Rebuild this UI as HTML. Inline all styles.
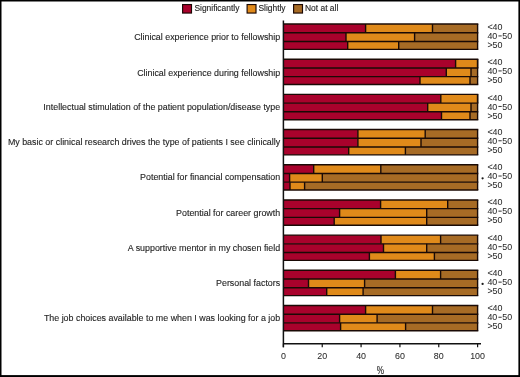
<!DOCTYPE html>
<html><head><meta charset="utf-8"><style>
html,body{margin:0;padding:0;background:#fff;}
body{width:520px;height:377px;overflow:hidden;position:relative;}
svg{position:absolute;left:0;top:0;}
text{font-family:"Liberation Sans",sans-serif;fill:#252525;stroke:#252525;stroke-width:0.12px;}
text.r,text.t{stroke-width:0.04px;fill:#2a2a2a;}
svg{will-change:transform;}
</style></head><body>
<svg width="520" height="377" viewBox="0 0 520 377">
<rect x="0" y="0" width="520" height="377" fill="#fff"/>
<rect x="283.40" y="24.03" width="82.20" height="8.73" fill="#a9022c"/>
<rect x="365.60" y="24.03" width="66.90" height="8.73" fill="#e08a1a"/>
<rect x="432.50" y="24.03" width="45.10" height="8.73" fill="#a76b25"/>
<line x1="365.60" y1="24.03" x2="365.60" y2="32.76" stroke="#1a0a05" stroke-width="1.4"/>
<line x1="432.50" y1="24.03" x2="432.50" y2="32.76" stroke="#1a0a05" stroke-width="1.4"/>
<line x1="477.60" y1="24.03" x2="477.60" y2="32.76" stroke="#1a0a05" stroke-width="1.4"/>
<rect x="283.40" y="32.76" width="62.60" height="8.67" fill="#a9022c"/>
<rect x="346.00" y="32.76" width="68.60" height="8.67" fill="#e08a1a"/>
<rect x="414.60" y="32.76" width="63.00" height="8.67" fill="#a76b25"/>
<line x1="346.00" y1="32.76" x2="346.00" y2="41.43" stroke="#1a0a05" stroke-width="1.4"/>
<line x1="414.60" y1="32.76" x2="414.60" y2="41.43" stroke="#1a0a05" stroke-width="1.4"/>
<line x1="477.60" y1="32.76" x2="477.60" y2="41.43" stroke="#1a0a05" stroke-width="1.4"/>
<rect x="283.40" y="41.43" width="64.30" height="7.90" fill="#a9022c"/>
<rect x="347.70" y="41.43" width="51.00" height="7.90" fill="#e08a1a"/>
<rect x="398.70" y="41.43" width="78.90" height="7.90" fill="#a76b25"/>
<line x1="347.70" y1="41.43" x2="347.70" y2="49.33" stroke="#1a0a05" stroke-width="1.4"/>
<line x1="398.70" y1="41.43" x2="398.70" y2="49.33" stroke="#1a0a05" stroke-width="1.4"/>
<line x1="477.60" y1="41.43" x2="477.60" y2="49.33" stroke="#1a0a05" stroke-width="1.4"/>
<line x1="283.40" y1="24.03" x2="478.30" y2="24.03" stroke="#1a0a05" stroke-width="1.4"/>
<line x1="283.40" y1="32.76" x2="478.30" y2="32.76" stroke="#1a0a05" stroke-width="1.4"/>
<line x1="283.40" y1="41.43" x2="478.30" y2="41.43" stroke="#1a0a05" stroke-width="1.4"/>
<line x1="283.40" y1="49.33" x2="478.30" y2="49.33" stroke="#1a0a05" stroke-width="1.4"/>
<text x="280.2" y="39.75" text-anchor="end" font-size="8.9">Clinical experience prior to fellowship</text>
<text class="r" x="487.4" y="30.00" font-size="8.9">&lt;40</text>
<text class="r" x="487.4" y="39.00" font-size="8.9">40</text>
<rect x="498.40" y="35.45" width="3.3" height="0.95" fill="#2a2a2a"/>
<text class="r" x="502.25" y="39.00" font-size="8.9">50</text>
<text class="r" x="487.4" y="48.00" font-size="8.9">&gt;50</text>
<rect x="283.40" y="59.21" width="172.20" height="8.73" fill="#a9022c"/>
<rect x="455.60" y="59.21" width="22.00" height="8.73" fill="#e08a1a"/>
<line x1="455.60" y1="59.21" x2="455.60" y2="67.94" stroke="#1a0a05" stroke-width="1.4"/>
<line x1="477.60" y1="59.21" x2="477.60" y2="67.94" stroke="#1a0a05" stroke-width="1.4"/>
<line x1="477.60" y1="59.21" x2="477.60" y2="67.94" stroke="#1a0a05" stroke-width="1.4"/>
<rect x="283.40" y="67.94" width="162.90" height="8.67" fill="#a9022c"/>
<rect x="446.30" y="67.94" width="24.70" height="8.67" fill="#e08a1a"/>
<rect x="471.00" y="67.94" width="6.60" height="8.67" fill="#a76b25"/>
<line x1="446.30" y1="67.94" x2="446.30" y2="76.61" stroke="#1a0a05" stroke-width="1.4"/>
<line x1="471.00" y1="67.94" x2="471.00" y2="76.61" stroke="#1a0a05" stroke-width="1.4"/>
<line x1="477.60" y1="67.94" x2="477.60" y2="76.61" stroke="#1a0a05" stroke-width="1.4"/>
<rect x="283.40" y="76.61" width="136.60" height="7.90" fill="#a9022c"/>
<rect x="420.00" y="76.61" width="50.00" height="7.90" fill="#e08a1a"/>
<rect x="470.00" y="76.61" width="7.60" height="7.90" fill="#a76b25"/>
<line x1="420.00" y1="76.61" x2="420.00" y2="84.51" stroke="#1a0a05" stroke-width="1.4"/>
<line x1="470.00" y1="76.61" x2="470.00" y2="84.51" stroke="#1a0a05" stroke-width="1.4"/>
<line x1="477.60" y1="76.61" x2="477.60" y2="84.51" stroke="#1a0a05" stroke-width="1.4"/>
<line x1="283.40" y1="59.21" x2="478.30" y2="59.21" stroke="#1a0a05" stroke-width="1.4"/>
<line x1="283.40" y1="67.94" x2="478.30" y2="67.94" stroke="#1a0a05" stroke-width="1.4"/>
<line x1="283.40" y1="76.61" x2="478.30" y2="76.61" stroke="#1a0a05" stroke-width="1.4"/>
<line x1="283.40" y1="84.51" x2="478.30" y2="84.51" stroke="#1a0a05" stroke-width="1.4"/>
<text x="280.2" y="75.65" text-anchor="end" font-size="8.9">Clinical experience during fellowship</text>
<text class="r" x="487.4" y="65.00" font-size="8.9">&lt;40</text>
<text class="r" x="487.4" y="74.00" font-size="8.9">40</text>
<rect x="498.40" y="70.45" width="3.3" height="0.95" fill="#2a2a2a"/>
<text class="r" x="502.25" y="74.00" font-size="8.9">50</text>
<text class="r" x="487.4" y="83.00" font-size="8.9">&gt;50</text>
<rect x="283.40" y="94.39" width="157.40" height="8.73" fill="#a9022c"/>
<rect x="440.80" y="94.39" width="36.80" height="8.73" fill="#e08a1a"/>
<line x1="440.80" y1="94.39" x2="440.80" y2="103.12" stroke="#1a0a05" stroke-width="1.4"/>
<line x1="477.60" y1="94.39" x2="477.60" y2="103.12" stroke="#1a0a05" stroke-width="1.4"/>
<line x1="477.60" y1="94.39" x2="477.60" y2="103.12" stroke="#1a0a05" stroke-width="1.4"/>
<rect x="283.40" y="103.12" width="144.30" height="8.67" fill="#a9022c"/>
<rect x="427.70" y="103.12" width="43.30" height="8.67" fill="#e08a1a"/>
<rect x="471.00" y="103.12" width="6.60" height="8.67" fill="#a76b25"/>
<line x1="427.70" y1="103.12" x2="427.70" y2="111.79" stroke="#1a0a05" stroke-width="1.4"/>
<line x1="471.00" y1="103.12" x2="471.00" y2="111.79" stroke="#1a0a05" stroke-width="1.4"/>
<line x1="477.60" y1="103.12" x2="477.60" y2="111.79" stroke="#1a0a05" stroke-width="1.4"/>
<rect x="283.40" y="111.79" width="158.10" height="7.90" fill="#a9022c"/>
<rect x="441.50" y="111.79" width="28.50" height="7.90" fill="#e08a1a"/>
<rect x="470.00" y="111.79" width="7.60" height="7.90" fill="#a76b25"/>
<line x1="441.50" y1="111.79" x2="441.50" y2="119.69" stroke="#1a0a05" stroke-width="1.4"/>
<line x1="470.00" y1="111.79" x2="470.00" y2="119.69" stroke="#1a0a05" stroke-width="1.4"/>
<line x1="477.60" y1="111.79" x2="477.60" y2="119.69" stroke="#1a0a05" stroke-width="1.4"/>
<line x1="283.40" y1="94.39" x2="478.30" y2="94.39" stroke="#1a0a05" stroke-width="1.4"/>
<line x1="283.40" y1="103.12" x2="478.30" y2="103.12" stroke="#1a0a05" stroke-width="1.4"/>
<line x1="283.40" y1="111.79" x2="478.30" y2="111.79" stroke="#1a0a05" stroke-width="1.4"/>
<line x1="283.40" y1="119.69" x2="478.30" y2="119.69" stroke="#1a0a05" stroke-width="1.4"/>
<text x="280.2" y="109.75" text-anchor="end" font-size="8.9">Intellectual stimulation of the patient population/disease type</text>
<text class="r" x="487.4" y="100.50" font-size="8.9">&lt;40</text>
<text class="r" x="487.4" y="109.50" font-size="8.9">40</text>
<rect x="498.40" y="105.95" width="3.3" height="0.95" fill="#2a2a2a"/>
<text class="r" x="502.25" y="109.50" font-size="8.9">50</text>
<text class="r" x="487.4" y="118.50" font-size="8.9">&gt;50</text>
<rect x="283.40" y="129.57" width="74.50" height="8.73" fill="#a9022c"/>
<rect x="357.90" y="129.57" width="67.30" height="8.73" fill="#e08a1a"/>
<rect x="425.20" y="129.57" width="52.40" height="8.73" fill="#a76b25"/>
<line x1="357.90" y1="129.57" x2="357.90" y2="138.30" stroke="#1a0a05" stroke-width="1.4"/>
<line x1="425.20" y1="129.57" x2="425.20" y2="138.30" stroke="#1a0a05" stroke-width="1.4"/>
<line x1="477.60" y1="129.57" x2="477.60" y2="138.30" stroke="#1a0a05" stroke-width="1.4"/>
<rect x="283.40" y="138.30" width="74.50" height="8.67" fill="#a9022c"/>
<rect x="357.90" y="138.30" width="63.10" height="8.67" fill="#e08a1a"/>
<rect x="421.00" y="138.30" width="56.60" height="8.67" fill="#a76b25"/>
<line x1="357.90" y1="138.30" x2="357.90" y2="146.97" stroke="#1a0a05" stroke-width="1.4"/>
<line x1="421.00" y1="138.30" x2="421.00" y2="146.97" stroke="#1a0a05" stroke-width="1.4"/>
<line x1="477.60" y1="138.30" x2="477.60" y2="146.97" stroke="#1a0a05" stroke-width="1.4"/>
<rect x="283.40" y="146.97" width="65.30" height="7.90" fill="#a9022c"/>
<rect x="348.70" y="146.97" width="56.70" height="7.90" fill="#e08a1a"/>
<rect x="405.40" y="146.97" width="72.20" height="7.90" fill="#a76b25"/>
<line x1="348.70" y1="146.97" x2="348.70" y2="154.87" stroke="#1a0a05" stroke-width="1.4"/>
<line x1="405.40" y1="146.97" x2="405.40" y2="154.87" stroke="#1a0a05" stroke-width="1.4"/>
<line x1="477.60" y1="146.97" x2="477.60" y2="154.87" stroke="#1a0a05" stroke-width="1.4"/>
<line x1="283.40" y1="129.57" x2="478.30" y2="129.57" stroke="#1a0a05" stroke-width="1.4"/>
<line x1="283.40" y1="138.30" x2="478.30" y2="138.30" stroke="#1a0a05" stroke-width="1.4"/>
<line x1="283.40" y1="146.97" x2="478.30" y2="146.97" stroke="#1a0a05" stroke-width="1.4"/>
<line x1="283.40" y1="154.87" x2="478.30" y2="154.87" stroke="#1a0a05" stroke-width="1.4"/>
<text x="280.2" y="144.85" text-anchor="end" font-size="8.9">My basic or clinical research drives the type of patients I see clinically</text>
<text class="r" x="487.4" y="134.85" font-size="8.9">&lt;40</text>
<text class="r" x="487.4" y="143.85" font-size="8.9">40</text>
<rect x="498.40" y="140.30" width="3.3" height="0.95" fill="#2a2a2a"/>
<text class="r" x="502.25" y="143.85" font-size="8.9">50</text>
<text class="r" x="487.4" y="152.85" font-size="8.9">&gt;50</text>
<rect x="283.40" y="164.75" width="30.30" height="8.73" fill="#a9022c"/>
<rect x="313.70" y="164.75" width="67.10" height="8.73" fill="#e08a1a"/>
<rect x="380.80" y="164.75" width="96.80" height="8.73" fill="#a76b25"/>
<line x1="313.70" y1="164.75" x2="313.70" y2="173.48" stroke="#1a0a05" stroke-width="1.4"/>
<line x1="380.80" y1="164.75" x2="380.80" y2="173.48" stroke="#1a0a05" stroke-width="1.4"/>
<line x1="477.60" y1="164.75" x2="477.60" y2="173.48" stroke="#1a0a05" stroke-width="1.4"/>
<rect x="283.40" y="173.48" width="6.20" height="8.67" fill="#a9022c"/>
<rect x="289.60" y="173.48" width="32.70" height="8.67" fill="#e08a1a"/>
<rect x="322.30" y="173.48" width="155.30" height="8.67" fill="#a76b25"/>
<line x1="289.60" y1="173.48" x2="289.60" y2="182.15" stroke="#1a0a05" stroke-width="1.4"/>
<line x1="322.30" y1="173.48" x2="322.30" y2="182.15" stroke="#1a0a05" stroke-width="1.4"/>
<line x1="477.60" y1="173.48" x2="477.60" y2="182.15" stroke="#1a0a05" stroke-width="1.4"/>
<rect x="283.40" y="182.15" width="6.60" height="7.90" fill="#a9022c"/>
<rect x="290.00" y="182.15" width="14.60" height="7.90" fill="#e08a1a"/>
<rect x="304.60" y="182.15" width="173.00" height="7.90" fill="#a76b25"/>
<line x1="290.00" y1="182.15" x2="290.00" y2="190.05" stroke="#1a0a05" stroke-width="1.4"/>
<line x1="304.60" y1="182.15" x2="304.60" y2="190.05" stroke="#1a0a05" stroke-width="1.4"/>
<line x1="477.60" y1="182.15" x2="477.60" y2="190.05" stroke="#1a0a05" stroke-width="1.4"/>
<line x1="283.40" y1="164.75" x2="478.30" y2="164.75" stroke="#1a0a05" stroke-width="1.4"/>
<line x1="283.40" y1="173.48" x2="478.30" y2="173.48" stroke="#1a0a05" stroke-width="1.4"/>
<line x1="283.40" y1="182.15" x2="478.30" y2="182.15" stroke="#1a0a05" stroke-width="1.4"/>
<line x1="283.40" y1="190.05" x2="478.30" y2="190.05" stroke="#1a0a05" stroke-width="1.4"/>
<text x="280.2" y="180.45" text-anchor="end" font-size="8.9">Potential for financial compensation</text>
<text class="r" x="487.4" y="170.10" font-size="8.9">&lt;40</text>
<text class="r" x="487.4" y="179.10" font-size="8.9">40</text>
<rect x="498.40" y="175.55" width="3.3" height="0.95" fill="#2a2a2a"/>
<text class="r" x="502.25" y="179.10" font-size="8.9">50</text>
<text class="r" x="487.4" y="188.10" font-size="8.9">&gt;50</text>
<circle cx="482.6" cy="178.35" r="1.15" fill="#1a1a1a"/>
<rect x="283.40" y="199.93" width="97.20" height="8.73" fill="#a9022c"/>
<rect x="380.60" y="199.93" width="67.10" height="8.73" fill="#e08a1a"/>
<rect x="447.70" y="199.93" width="29.90" height="8.73" fill="#a76b25"/>
<line x1="380.60" y1="199.93" x2="380.60" y2="208.66" stroke="#1a0a05" stroke-width="1.4"/>
<line x1="447.70" y1="199.93" x2="447.70" y2="208.66" stroke="#1a0a05" stroke-width="1.4"/>
<line x1="477.60" y1="199.93" x2="477.60" y2="208.66" stroke="#1a0a05" stroke-width="1.4"/>
<rect x="283.40" y="208.66" width="56.20" height="8.67" fill="#a9022c"/>
<rect x="339.60" y="208.66" width="87.10" height="8.67" fill="#e08a1a"/>
<rect x="426.70" y="208.66" width="50.90" height="8.67" fill="#a76b25"/>
<line x1="339.60" y1="208.66" x2="339.60" y2="217.33" stroke="#1a0a05" stroke-width="1.4"/>
<line x1="426.70" y1="208.66" x2="426.70" y2="217.33" stroke="#1a0a05" stroke-width="1.4"/>
<line x1="477.60" y1="208.66" x2="477.60" y2="217.33" stroke="#1a0a05" stroke-width="1.4"/>
<rect x="283.40" y="217.33" width="50.80" height="7.90" fill="#a9022c"/>
<rect x="334.20" y="217.33" width="92.50" height="7.90" fill="#e08a1a"/>
<rect x="426.70" y="217.33" width="50.90" height="7.90" fill="#a76b25"/>
<line x1="334.20" y1="217.33" x2="334.20" y2="225.23" stroke="#1a0a05" stroke-width="1.4"/>
<line x1="426.70" y1="217.33" x2="426.70" y2="225.23" stroke="#1a0a05" stroke-width="1.4"/>
<line x1="477.60" y1="217.33" x2="477.60" y2="225.23" stroke="#1a0a05" stroke-width="1.4"/>
<line x1="283.40" y1="199.93" x2="478.30" y2="199.93" stroke="#1a0a05" stroke-width="1.4"/>
<line x1="283.40" y1="208.66" x2="478.30" y2="208.66" stroke="#1a0a05" stroke-width="1.4"/>
<line x1="283.40" y1="217.33" x2="478.30" y2="217.33" stroke="#1a0a05" stroke-width="1.4"/>
<line x1="283.40" y1="225.23" x2="478.30" y2="225.23" stroke="#1a0a05" stroke-width="1.4"/>
<text x="280.2" y="215.65" text-anchor="end" font-size="8.9">Potential for career growth</text>
<text class="r" x="487.4" y="205.20" font-size="8.9">&lt;40</text>
<text class="r" x="487.4" y="214.20" font-size="8.9">40</text>
<rect x="498.40" y="210.65" width="3.3" height="0.95" fill="#2a2a2a"/>
<text class="r" x="502.25" y="214.20" font-size="8.9">50</text>
<text class="r" x="487.4" y="223.20" font-size="8.9">&gt;50</text>
<rect x="283.40" y="235.11" width="97.60" height="8.73" fill="#a9022c"/>
<rect x="381.00" y="235.11" width="59.60" height="8.73" fill="#e08a1a"/>
<rect x="440.60" y="235.11" width="37.00" height="8.73" fill="#a76b25"/>
<line x1="381.00" y1="235.11" x2="381.00" y2="243.84" stroke="#1a0a05" stroke-width="1.4"/>
<line x1="440.60" y1="235.11" x2="440.60" y2="243.84" stroke="#1a0a05" stroke-width="1.4"/>
<line x1="477.60" y1="235.11" x2="477.60" y2="243.84" stroke="#1a0a05" stroke-width="1.4"/>
<rect x="283.40" y="243.84" width="100.10" height="8.67" fill="#a9022c"/>
<rect x="383.50" y="243.84" width="43.20" height="8.67" fill="#e08a1a"/>
<rect x="426.70" y="243.84" width="50.90" height="8.67" fill="#a76b25"/>
<line x1="383.50" y1="243.84" x2="383.50" y2="252.51" stroke="#1a0a05" stroke-width="1.4"/>
<line x1="426.70" y1="243.84" x2="426.70" y2="252.51" stroke="#1a0a05" stroke-width="1.4"/>
<line x1="477.60" y1="243.84" x2="477.60" y2="252.51" stroke="#1a0a05" stroke-width="1.4"/>
<rect x="283.40" y="252.51" width="86.00" height="7.90" fill="#a9022c"/>
<rect x="369.40" y="252.51" width="65.00" height="7.90" fill="#e08a1a"/>
<rect x="434.40" y="252.51" width="43.20" height="7.90" fill="#a76b25"/>
<line x1="369.40" y1="252.51" x2="369.40" y2="260.41" stroke="#1a0a05" stroke-width="1.4"/>
<line x1="434.40" y1="252.51" x2="434.40" y2="260.41" stroke="#1a0a05" stroke-width="1.4"/>
<line x1="477.60" y1="252.51" x2="477.60" y2="260.41" stroke="#1a0a05" stroke-width="1.4"/>
<line x1="283.40" y1="235.11" x2="478.30" y2="235.11" stroke="#1a0a05" stroke-width="1.4"/>
<line x1="283.40" y1="243.84" x2="478.30" y2="243.84" stroke="#1a0a05" stroke-width="1.4"/>
<line x1="283.40" y1="252.51" x2="478.30" y2="252.51" stroke="#1a0a05" stroke-width="1.4"/>
<line x1="283.40" y1="260.41" x2="478.30" y2="260.41" stroke="#1a0a05" stroke-width="1.4"/>
<text x="280.2" y="251.25" text-anchor="end" font-size="8.9">A supportive mentor in my chosen field</text>
<text class="r" x="487.4" y="240.75" font-size="8.9">&lt;40</text>
<text class="r" x="487.4" y="249.75" font-size="8.9">40</text>
<rect x="498.40" y="246.20" width="3.3" height="0.95" fill="#2a2a2a"/>
<text class="r" x="502.25" y="249.75" font-size="8.9">50</text>
<text class="r" x="487.4" y="258.75" font-size="8.9">&gt;50</text>
<rect x="283.40" y="270.29" width="112.00" height="8.73" fill="#a9022c"/>
<rect x="395.40" y="270.29" width="45.20" height="8.73" fill="#e08a1a"/>
<rect x="440.60" y="270.29" width="37.00" height="8.73" fill="#a76b25"/>
<line x1="395.40" y1="270.29" x2="395.40" y2="279.02" stroke="#1a0a05" stroke-width="1.4"/>
<line x1="440.60" y1="270.29" x2="440.60" y2="279.02" stroke="#1a0a05" stroke-width="1.4"/>
<line x1="477.60" y1="270.29" x2="477.60" y2="279.02" stroke="#1a0a05" stroke-width="1.4"/>
<rect x="283.40" y="279.02" width="25.10" height="8.67" fill="#a9022c"/>
<rect x="308.50" y="279.02" width="56.10" height="8.67" fill="#e08a1a"/>
<rect x="364.60" y="279.02" width="113.00" height="8.67" fill="#a76b25"/>
<line x1="308.50" y1="279.02" x2="308.50" y2="287.69" stroke="#1a0a05" stroke-width="1.4"/>
<line x1="364.60" y1="279.02" x2="364.60" y2="287.69" stroke="#1a0a05" stroke-width="1.4"/>
<line x1="477.60" y1="279.02" x2="477.60" y2="287.69" stroke="#1a0a05" stroke-width="1.4"/>
<rect x="283.40" y="287.69" width="43.30" height="7.90" fill="#a9022c"/>
<rect x="326.70" y="287.69" width="36.40" height="7.90" fill="#e08a1a"/>
<rect x="363.10" y="287.69" width="114.50" height="7.90" fill="#a76b25"/>
<line x1="326.70" y1="287.69" x2="326.70" y2="295.59" stroke="#1a0a05" stroke-width="1.4"/>
<line x1="363.10" y1="287.69" x2="363.10" y2="295.59" stroke="#1a0a05" stroke-width="1.4"/>
<line x1="477.60" y1="287.69" x2="477.60" y2="295.59" stroke="#1a0a05" stroke-width="1.4"/>
<line x1="283.40" y1="270.29" x2="478.30" y2="270.29" stroke="#1a0a05" stroke-width="1.4"/>
<line x1="283.40" y1="279.02" x2="478.30" y2="279.02" stroke="#1a0a05" stroke-width="1.4"/>
<line x1="283.40" y1="287.69" x2="478.30" y2="287.69" stroke="#1a0a05" stroke-width="1.4"/>
<line x1="283.40" y1="295.59" x2="478.30" y2="295.59" stroke="#1a0a05" stroke-width="1.4"/>
<text x="280.2" y="285.75" text-anchor="end" font-size="8.9">Personal factors</text>
<text class="r" x="487.4" y="276.20" font-size="8.9">&lt;40</text>
<text class="r" x="487.4" y="285.20" font-size="8.9">40</text>
<rect x="498.40" y="281.65" width="3.3" height="0.95" fill="#2a2a2a"/>
<text class="r" x="502.25" y="285.20" font-size="8.9">50</text>
<text class="r" x="487.4" y="294.20" font-size="8.9">&gt;50</text>
<circle cx="482.6" cy="283.95" r="1.15" fill="#1a1a1a"/>
<rect x="283.40" y="305.47" width="82.20" height="8.73" fill="#a9022c"/>
<rect x="365.60" y="305.47" width="66.90" height="8.73" fill="#e08a1a"/>
<rect x="432.50" y="305.47" width="45.10" height="8.73" fill="#a76b25"/>
<line x1="365.60" y1="305.47" x2="365.60" y2="314.20" stroke="#1a0a05" stroke-width="1.4"/>
<line x1="432.50" y1="305.47" x2="432.50" y2="314.20" stroke="#1a0a05" stroke-width="1.4"/>
<line x1="477.60" y1="305.47" x2="477.60" y2="314.20" stroke="#1a0a05" stroke-width="1.4"/>
<rect x="283.40" y="314.20" width="56.20" height="8.67" fill="#a9022c"/>
<rect x="339.60" y="314.20" width="37.50" height="8.67" fill="#e08a1a"/>
<rect x="377.10" y="314.20" width="100.50" height="8.67" fill="#a76b25"/>
<line x1="339.60" y1="314.20" x2="339.60" y2="322.87" stroke="#1a0a05" stroke-width="1.4"/>
<line x1="377.10" y1="314.20" x2="377.10" y2="322.87" stroke="#1a0a05" stroke-width="1.4"/>
<line x1="477.60" y1="314.20" x2="477.60" y2="322.87" stroke="#1a0a05" stroke-width="1.4"/>
<rect x="283.40" y="322.87" width="57.20" height="7.90" fill="#a9022c"/>
<rect x="340.60" y="322.87" width="65.00" height="7.90" fill="#e08a1a"/>
<rect x="405.60" y="322.87" width="72.00" height="7.90" fill="#a76b25"/>
<line x1="340.60" y1="322.87" x2="340.60" y2="330.77" stroke="#1a0a05" stroke-width="1.4"/>
<line x1="405.60" y1="322.87" x2="405.60" y2="330.77" stroke="#1a0a05" stroke-width="1.4"/>
<line x1="477.60" y1="322.87" x2="477.60" y2="330.77" stroke="#1a0a05" stroke-width="1.4"/>
<line x1="283.40" y1="305.47" x2="478.30" y2="305.47" stroke="#1a0a05" stroke-width="1.4"/>
<line x1="283.40" y1="314.20" x2="478.30" y2="314.20" stroke="#1a0a05" stroke-width="1.4"/>
<line x1="283.40" y1="322.87" x2="478.30" y2="322.87" stroke="#1a0a05" stroke-width="1.4"/>
<line x1="283.40" y1="330.77" x2="478.30" y2="330.77" stroke="#1a0a05" stroke-width="1.4"/>
<text x="280.2" y="321.25" text-anchor="end" font-size="8.9">The job choices available to me when I was looking for a job</text>
<text class="r" x="487.4" y="311.30" font-size="8.9">&lt;40</text>
<text class="r" x="487.4" y="320.30" font-size="8.9">40</text>
<rect x="498.40" y="316.75" width="3.3" height="0.95" fill="#2a2a2a"/>
<text class="r" x="502.25" y="320.30" font-size="8.9">50</text>
<text class="r" x="487.4" y="329.30" font-size="8.9">&gt;50</text>
<line x1="283.4" y1="20.6" x2="283.4" y2="347.2" stroke="#111" stroke-width="1.5"/>
<line x1="283.4" y1="343.7" x2="481.0" y2="343.7" stroke="#111" stroke-width="1.6"/>
<line x1="283.40" y1="343.6" x2="283.40" y2="347.3" stroke="#111" stroke-width="1.2"/>
<text class="t" x="283.40" y="358.8" text-anchor="middle" font-size="8.9">0</text>
<line x1="322.24" y1="343.6" x2="322.24" y2="347.3" stroke="#111" stroke-width="1.2"/>
<text class="t" x="322.24" y="358.8" text-anchor="middle" font-size="8.9">20</text>
<line x1="361.08" y1="343.6" x2="361.08" y2="347.3" stroke="#111" stroke-width="1.2"/>
<text class="t" x="361.08" y="358.8" text-anchor="middle" font-size="8.9">40</text>
<line x1="399.92" y1="343.6" x2="399.92" y2="347.3" stroke="#111" stroke-width="1.2"/>
<text class="t" x="399.92" y="358.8" text-anchor="middle" font-size="8.9">60</text>
<line x1="438.76" y1="343.6" x2="438.76" y2="347.3" stroke="#111" stroke-width="1.2"/>
<text class="t" x="438.76" y="358.8" text-anchor="middle" font-size="8.9">80</text>
<line x1="477.60" y1="343.6" x2="477.60" y2="347.3" stroke="#111" stroke-width="1.2"/>
<text class="t" x="477.60" y="358.8" text-anchor="middle" font-size="8.9">100</text>
<text x="0" y="0" text-anchor="middle" font-size="10.2" transform="translate(380.35 374.3) scale(0.8 1)">%</text>
<rect x="182.60" y="4.55" width="8.9" height="8.5" fill="#a9022c" stroke="#1a0805" stroke-width="1.15"/>
<text x="194.40" y="11.3" font-size="8.45">Significantly</text>
<rect x="247.10" y="4.55" width="8.9" height="8.5" fill="#e08a1a" stroke="#1a0805" stroke-width="1.15"/>
<text x="258.40" y="11.3" font-size="8.45">Slightly</text>
<rect x="293.60" y="4.55" width="8.9" height="8.5" fill="#a76b25" stroke="#1a0805" stroke-width="1.15"/>
<text x="305.00" y="11.3" font-size="8.45">Not at all</text>
<rect x="0" y="0" width="520" height="1.5" fill="#000"/>
<rect x="0" y="0" width="1.5" height="377" fill="#000"/>
<rect x="518.4" y="0" width="1.6" height="377" fill="#000"/>
<rect x="0" y="375.1" width="520" height="1.9" fill="#000"/>
</svg>
</body></html>
